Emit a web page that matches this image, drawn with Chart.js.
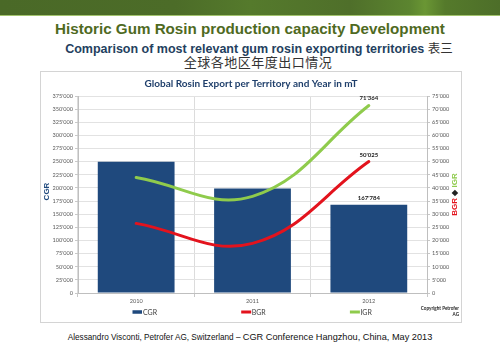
<!DOCTYPE html>
<html>
<head>
<meta charset="utf-8">
<script src="https://cdn.jsdelivr.net/npm/chart.js@4.4.0/dist/chart.umd.min.js"></script>
<style>
  html, body { margin: 0; padding: 0; background: #ffffff; }
  body { width: 500px; height: 346px; position: relative; overflow: hidden;
         font-family: "Liberation Sans", Arial, sans-serif; }
  #banner { position: absolute; left: 0; top: 0; width: 500px; height: 15px;
            background: linear-gradient(90deg, #4a6927 0%, #4c6c28 35%, #557a2c 50%, #4f6f2a 70%,
                        #5c8530 82%, #6a9634 85%, #557a2b 89%, #4d6e29 100%);
            border-bottom: 1px solid #a3c46e; }
  #t1 { position: absolute; left: 0; top: 20px; width: 500px; text-align: center;
        font-weight: bold; font-size: 15.2px; color: #4f6a1f; white-space: nowrap; }
  #t2 { position: absolute; left: 9px; top: 38px; width: 500px; text-align: center;
        font-weight: bold; font-size: 12.5px; color: #243f60; white-space: nowrap; }
  #t2 .cn { font-weight: normal; font-family: "Noto Sans CJK SC", sans-serif; color: #333; }
  #t3 { position: absolute; left: 8px; top: 52px; width: 500px; text-align: center;
        font-size: 13px; letter-spacing: 0.5px; color: #333;
        font-family: "Noto Sans CJK SC", sans-serif; white-space: nowrap; }
  #panel { position: absolute; left: 40px; top: 71px; width: 420px; height: 250px;
           border: 1px solid #d4d4d4; }
  #chart { display: block; width: 420px; height: 250px; }
  #foot { position: absolute; left: 0; top: 332px; width: 500px; text-align: center;
          font-size: 8.2px; color: #111; white-space: nowrap; }
  #foot .big { font-size: 9.2px; }
</style>
</head>
<body>
<div id="banner"></div>
<div id="t1">Historic Gum Rosin production capacity Development</div>
<div id="t2">Comparison of most relevant gum rosin exporting territories <span class="cn">表三</span></div>
<div id="t3">全球各地区年度出口情况</div>
<div id="panel"><canvas id="chart" width="420" height="250"></canvas></div>
<div id="foot">Alessandro Visconti, Petrofer AG, Switzerland – <span class="big">CGR Conference Hangzhou, China, May 2013</span></div>

<script>
// Export volumes in metric tonnes
const years = ['2010', '2011', '2012'];
const cgrValues = [250000, 199000, 167784];
const bgrValues = [26500, 18900, 50025];
const igrValues = [44000, 36800, 71364];

// Axis ranges
const leftAxis = { min: 0, max: 375000, step: 25000 };
const rightAxis = { min: 0, max: 75000, step: 5000 };

const CHART_FONT = 'Lato, "Open Sans", sans-serif';
const BLUE = '#1f497d';
const RED = '#e3131d';
const GREEN = '#8fcb4c';

function fmt(v) {
  return String(Math.round(v)).replace(/\B(?=(\d{3})+(?!\d))/g, "'");
}

// Value labels on the last point of every series
const endLabels = {
  id: 'endLabels',
  afterDatasetsDraw(chart) {
    const ctx = chart.ctx;
    ctx.save();
    ctx.font = 'bold 6px ' + CHART_FONT;
    ctx.fillStyle = '#222';
    ctx.textAlign = 'center';
    ctx.textBaseline = 'bottom';
    chart.data.datasets.forEach((ds, i) => {
      const meta = chart.getDatasetMeta(i);
      const last = ds.data.length - 1;
      const el = meta.data[last];
      ctx.fillText(fmt(ds.data[last]), el.x, el.y - 4);
    });
    ctx.restore();
  }
};

// Axis titles, legend row and copyright note
const decorations = {
  id: 'decorations',
  afterDraw(chart) {
    const ctx = chart.ctx;
    const a = chart.chartArea;
    ctx.save();

    // left axis title
    ctx.font = 'bold 8px "Liberation Sans", Arial, sans-serif';
    ctx.textAlign = 'center';
    ctx.textBaseline = 'middle';
    ctx.fillStyle = BLUE;
    ctx.translate(6, (a.top + a.bottom) / 2 - 3);
    ctx.rotate(-Math.PI / 2);
    ctx.fillText('CGR', 0, 0);
    ctx.setTransform(1, 0, 0, 1, 0, 0);

    // right axis title in three colours
    const parts = [['BGR', RED], [' \u25C6 ', '#222'], ['IGR', GREEN]];
    ctx.font = 'bold 8px "Liberation Sans", Arial, sans-serif';
    ctx.textAlign = 'left';
    let total = 0;
    parts.forEach(p => { total += ctx.measureText(p[0]).width; });
    ctx.translate(413.5, (a.top + a.bottom) / 2);
    ctx.rotate(-Math.PI / 2);
    let x = -total / 2;
    parts.forEach(p => {
      ctx.fillStyle = p[1];
      ctx.fillText(p[0], x, 0);
      x += ctx.measureText(p[0]).width;
    });
    ctx.setTransform(1, 0, 0, 1, 0, 0);

    // legend
    const ly = 240;
    const start = a.left + 54.5;
    const step = 108.7;
    ctx.font = '7px ' + CHART_FONT;
    ctx.textBaseline = 'middle';
    chart.data.datasets.forEach((ds, i) => {
      const x0 = start + i * step;
      if (ds.type === 'bar') {
        ctx.fillStyle = ds.backgroundColor;
        ctx.fillRect(x0, ly - 1.75, 9.5, 3.5);
      } else {
        ctx.fillStyle = ds.borderColor;
        ctx.fillRect(x0, ly - 1.5, 10, 3);
      }
      ctx.fillStyle = '#404040';
      ctx.fillText(ds.label, x0 + 10.5, ly + 0.5);
    });

    // copyright note
    ctx.font = 'bold 4.6px ' + CHART_FONT;
    ctx.fillStyle = '#222';
    ctx.textAlign = 'right';
    ctx.fillText('Copyright Petrofer', 418, 236.5);
    ctx.fillText('AG', 418, 243);
    ctx.restore();
  }
};

const tickFont = { family: CHART_FONT, size: 5.6 };

new Chart(document.getElementById('chart'), {
  data: {
    labels: years,
    datasets: [
      { type: 'bar', label: 'CGR', data: cgrValues, yAxisID: 'y', order: 2,
        backgroundColor: BLUE, barPercentage: 0.66, categoryPercentage: 1 },
      { type: 'line', label: 'BGR', data: bgrValues, yAxisID: 'y1', order: 1,
        borderColor: RED, backgroundColor: RED, borderWidth: 3, tension: 0.4,
        pointRadius: 0, fill: false, borderCapStyle: 'round' },
      { type: 'line', label: 'IGR', data: igrValues, yAxisID: 'y1', order: 0,
        borderColor: GREEN, backgroundColor: GREEN, borderWidth: 3, tension: 0.4,
        pointRadius: 0, fill: false, borderCapStyle: 'round' }
    ]
  },
  options: {
    responsive: false,
    animation: false,
    layout: { padding: 0 },
    plugins: {
      legend: { display: false },
      tooltip: { enabled: false },
      title: {
        display: true,
        text: 'Global Rosin Export per Territory and Year in mT',
        font: { family: CHART_FONT, size: 10, weight: 'bold' },
        color: '#1f3f6b',
        padding: { top: 5.5, bottom: 6.5 }
      }
    },
    scales: {
      x: {
        afterFit(s) { s.height = 29; },
        grid: { color: '#dcdcdc', tickLength: 4, tickColor: '#c8c8c8', offset: true },
        border: { color: '#bfbfbf' },
        ticks: { font: tickFont, color: '#595959', padding: 1 }
      },
      y: {
        position: 'left',
        min: leftAxis.min, max: leftAxis.max,
        afterFit(s) { s.width = 37; },
        grid: { color: '#e2e2e2', tickLength: 3, tickColor: '#c8c8c8' },
        border: { color: '#bfbfbf' },
        ticks: { stepSize: leftAxis.step, autoSkip: false, font: tickFont, color: '#595959',
                 padding: 2, callback: v => fmt(v) }
      },
      y1: {
        position: 'right',
        min: rightAxis.min, max: rightAxis.max,
        afterFit(s) { s.width = 34; },
        grid: { drawOnChartArea: false, tickLength: 3, tickColor: '#c8c8c8' },
        border: { color: '#bfbfbf' },
        ticks: { stepSize: rightAxis.step, autoSkip: false, font: tickFont, color: '#595959',
                 padding: 2, callback: v => fmt(v) }
      }
    }
  },
  plugins: [endLabels, decorations]
});
</script>
</body>
</html>
